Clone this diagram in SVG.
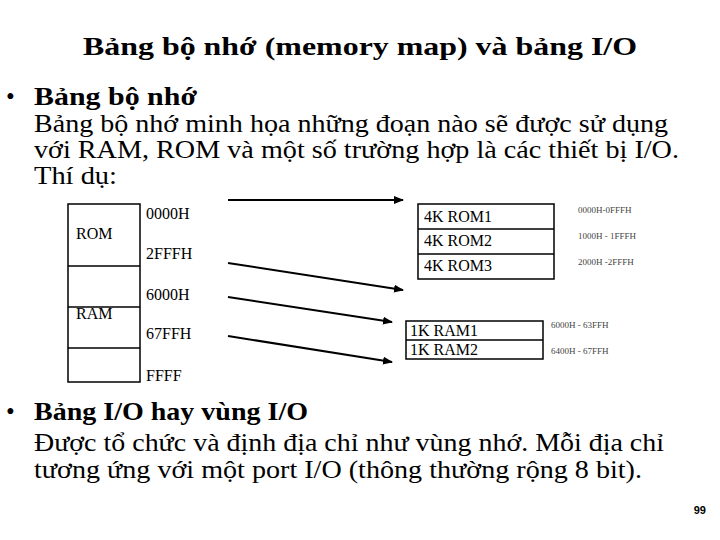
<svg xmlns="http://www.w3.org/2000/svg" width="720" height="540" viewBox="0 0 720 540">
<style>
text{font-family:"Liberation Serif","Times New Roman",serif;fill:#000}
.b{font-size:25px}
.s{font-size:16px}
.x{font-size:9px;fill:#444}
.box{fill:none;stroke:#000;stroke-width:1.5}
.c{stroke:#000;stroke-width:2;fill:none;marker-end:url(#a)}
</style>
<defs><marker id="a" markerWidth="10" markerHeight="8" refX="9" refY="4" orient="auto" markerUnits="userSpaceOnUse"><path d="M0,0L10,4L0,8z"/></marker></defs>
<rect width="720" height="540" fill="#fff"/>
<text x="83" y="55" font-size="25" font-weight="bold" textLength="554" lengthAdjust="spacingAndGlyphs">Bảng bộ nhớ (memory map) và bảng I/O</text>
<text class="b" x="6" y="105">•</text>
<text class="b" x="34" y="105" font-weight="bold" textLength="163" lengthAdjust="spacingAndGlyphs">Bảng bộ nhớ</text>
<text class="b" x="34" y="132" textLength="634" lengthAdjust="spacingAndGlyphs">Bảng bộ nhớ minh họa những đoạn nào sẽ được sử dụng</text>
<text class="b" x="34" y="158" textLength="645" lengthAdjust="spacingAndGlyphs">với RAM, ROM và một số trường hợp là các thiết bị I/O.</text>
<text class="b" x="34" y="184" textLength="83" lengthAdjust="spacingAndGlyphs">Thí dụ:</text>
<g id="memmap">
<rect class="box" x="68" y="204" width="72" height="178"/>
<line class="box" x1="68" y1="266" x2="140" y2="266"/>
<line class="box" x1="68" y1="307" x2="140" y2="307"/>
<line class="box" x1="68" y1="348" x2="140" y2="348"/>
<text class="s" x="76" y="239">ROM</text>
<text class="s" x="76" y="319">RAM</text>
<text class="s" x="146" y="219">0000H</text>
<text class="s" x="146" y="259">2FFFH</text>
<text class="s" x="146" y="300">6000H</text>
<text class="s" x="146" y="339">67FFH</text>
<text class="s" x="146" y="381">FFFF</text>
</g>
<g id="roms">
<rect class="box" x="418" y="204" width="136" height="75"/>
<line class="box" x1="418" y1="229" x2="554" y2="229"/>
<line class="box" x1="418" y1="254" x2="554" y2="254"/>
<text class="s" x="424" y="222">4K ROM1</text>
<text class="s" x="424" y="246">4K ROM2</text>
<text class="s" x="424" y="271">4K ROM3</text>
<text class="x" x="578" y="213">0000H-0FFFH</text>
<text class="x" x="578" y="239">1000H - 1FFFH</text>
<text class="x" x="578" y="265">2000H -2FFFH</text>
</g>
<g id="rams">
<rect class="box" x="406" y="321" width="137" height="38"/>
<line class="box" x1="406" y1="340" x2="543" y2="340"/>
<text class="s" x="410" y="336">1K RAM1</text>
<text class="s" x="410" y="355">1K RAM2</text>
<text class="x" x="551" y="328">6000H - 63FFH</text>
<text class="x" x="551" y="354">6400H - 67FFH</text>
</g>
<g id="connectors">
<line class="c" x1="228" y1="200" x2="403" y2="200"/>
<line class="c" x1="228" y1="263" x2="403" y2="290"/>
<line class="c" x1="228" y1="297" x2="392" y2="322"/>
<line class="c" x1="228" y1="336" x2="392" y2="362"/>
</g>
<text class="b" x="6" y="420">•</text>
<text class="b" x="34" y="420" font-weight="bold" textLength="274" lengthAdjust="spacingAndGlyphs">Bảng I/O hay vùng I/O</text>
<text class="b" x="34" y="451" textLength="630" lengthAdjust="spacingAndGlyphs">Được tổ chức và định địa chỉ như vùng nhớ. Mỗi địa chỉ</text>
<text class="b" x="34" y="478" textLength="608" lengthAdjust="spacingAndGlyphs">tương ứng với một port I/O (thông thường rộng 8 bit).</text>
<text x="706" y="514" text-anchor="end" style="font-family:'Liberation Sans',sans-serif" font-size="11" font-weight="bold">99</text>
</svg>
